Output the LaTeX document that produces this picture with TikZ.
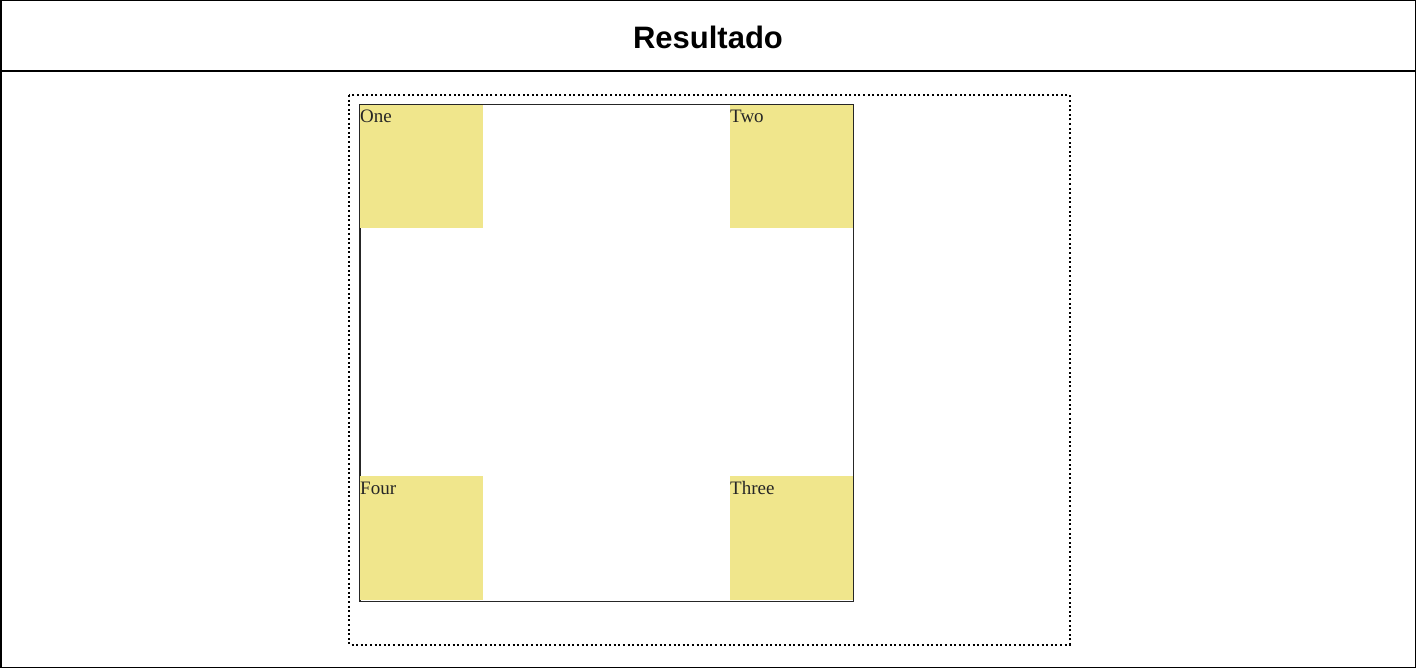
\documentclass[tikz,border=0pt]{standalone}
\usepackage{fontspec}
\setmainfont{Liberation Serif}
\newfontfamily\headfont{Liberation Sans}
\usetikzlibrary{calc}
\definecolor{khaki}{HTML}{F0E68C}
\tikzset{
  cell/.style={fill=khaki, draw=none, minimum width=123pt, minimum height=124pt, inner sep=0pt, outer sep=0pt, anchor=north west},
  celltext/.style={anchor=base west, inner sep=0pt, font=\fontsize{19pt}{22pt}\selectfont, text=black!85},
}
\begin{document}
\begin{tikzpicture}[x=1pt,y=-1pt]
\useasboundingbox (0,0) rectangle (1416,671);
% outer frame
\draw[line width=1.5pt] (0.75,0.75) rectangle (1415.25,667.5);
\draw[line width=2pt] (0,71) -- (1416,71);
\node[font=\headfont\bfseries\fontsize{31pt}{36pt}\selectfont] (title) at (708,37) {Resultado};
% dotted container
\draw[line width=2pt, dash pattern=on 2pt off 2.6pt] (349,95) rectangle (1069.5,644.5);
% inner grid box
\node[draw=black!85, line width=1pt, minimum width=493pt, minimum height=496pt, inner sep=0pt, anchor=north west] (grid) at (359.5,104.5) {};
% cells
\node[cell] (one) at (359.5,104.5) {};
\node[cell] (two) at (729.5,104.5) {};
\node[cell] (four) at (359.5,476) {};
\node[cell] (three) at (729.5,476) {};
\draw[black!85, line width=1pt] (grid.north west) rectangle (grid.south east);
\node[celltext] (onet) at ($(one.north west)+(0.5,18.5)$) {One};
\node[celltext] (twot) at ($(two.north west)+(0.5,18.5)$) {Two};
\node[celltext] (fourt) at ($(four.north west)+(0.5,18)$) {Four};
\node[celltext] (threet) at ($(three.north west)+(0.5,18)$) {Three};
\end{tikzpicture}
\end{document}
